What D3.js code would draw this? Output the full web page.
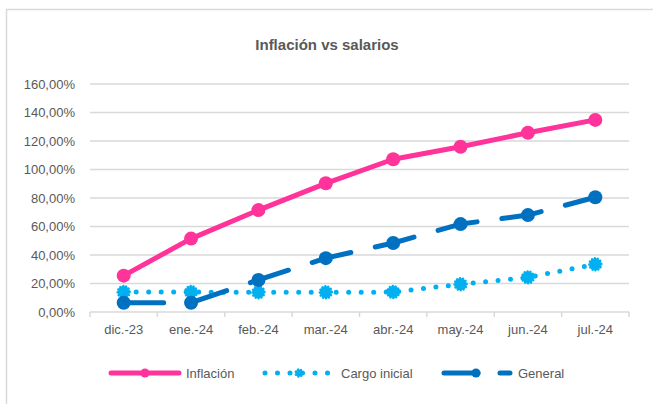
<!DOCTYPE html>
<html>
<head>
<meta charset="utf-8">
<script src="https://cdn.jsdelivr.net/npm/d3@7"></script>
<style>
    body { margin: 0; background: #fff; }
    svg text { font-family: "Liberation Sans Narrow", "Arial Narrow", "Liberation Sans", Arial, sans-serif; fill: #595959; }
</style>
</head>
<body>
<div id="chart"></div>
<script>
(function () {
    "use strict";

    const width = 653;
    const height = 404;

    const months = ["dic.-23", "ene.-24", "feb.-24", "mar.-24", "abr.-24", "may.-24", "jun.-24", "jul.-24"];
    const inflacion = [25.5, 51.5, 71.5, 90.3, 107.2, 116, 125.8, 134.8];
    const cargoInicial = [14, 14, 13.8, 13.8, 14, 19.5, 24.3, 33.5];
    const general = [6.5, 6.5, 22.5, 37.8, 48.4, 61.7, 68, 80.5];
    const yTicks = [0, 20, 40, 60, 80, 100, 120, 140, 160];

    const margin = { left: 90, right: 24, top: 84, bottom: 92 };

    const svg = d3.select("#chart")
        .append("svg")
        .attr("width", width)
        .attr("height", height);

    // chart frame (only left and top edges are visible in the crop)
    svg.append("rect")
        .attr("x", 6.5)
        .attr("y", 9.5)
        .attr("width", 700)
        .attr("height", 500)
        .attr("fill", "none")
        .attr("stroke", "#d9d9d9")
        .attr("stroke-width", 1.5);

    svg.append("text")
        .attr("x", 327)
        .attr("y", 50)
        .attr("text-anchor", "middle")
        .attr("font-size", 15)
        .attr("font-weight", "bold")
        .text("Inflación vs salarios");

    const x = d3.scaleBand()
        .domain(months)
        .range([margin.left, width - margin.right]);

    const y = d3.scaleLinear()
        .domain([0, 160])
        .range([height - margin.bottom, margin.top]);

    // gridlines
    svg.append("g")
        .selectAll("line")
        .data(yTicks.slice(1))
        .join("line")
        .attr("x1", margin.left)
        .attr("x2", width - margin.right)
        .attr("y1", (d) => y(d))
        .attr("y2", (d) => y(d))
        .attr("stroke", "#d9d9d9")
        .attr("stroke-width", 1.5);

    // y labels
    svg.append("g")
        .selectAll("text")
        .data(yTicks)
        .join("text")
        .attr("x", 75)
        .attr("y", (d) => y(d) + 4.5)
        .attr("text-anchor", "end")
        .attr("font-size", 13)
        .text((d) => d3.format(".2f")(d).replace(".", ",") + "%");

    // x axis
    const xAxis = svg.append("g")
        .attr("transform", `translate(0,${y(0)})`);
    xAxis.append("line")
        .attr("x1", margin.left)
        .attr("x2", width - margin.right)
        .attr("stroke", "#d9d9d9")
        .attr("stroke-width", 1.5);
    xAxis.selectAll("line.tick")
        .data(months.concat(["end"]))
        .join("line")
        .attr("class", "tick")
        .attr("x1", (d, i) => margin.left + i * x.bandwidth())
        .attr("x2", (d, i) => margin.left + i * x.bandwidth())
        .attr("y1", 0)
        .attr("y2", 5)
        .attr("stroke", "#d9d9d9")
        .attr("stroke-width", 1.5);
    xAxis.selectAll("text")
        .data(months)
        .join("text")
        .attr("x", (d) => x(d) + x.bandwidth() / 2)
        .attr("y", 22)
        .attr("text-anchor", "middle")
        .attr("font-size", 13)
        .text((d) => d);

    const cx = (i) => x(months[i]) + x.bandwidth() / 2;
    const line = d3.line().x((d, i) => cx(i)).y((d) => y(d));

    const series = [
        { name: "Inflación", values: inflacion, color: "#ff3399", dash: null, marker: "circle" },
        { name: "Cargo inicial", values: cargoInicial, color: "#00b0f0", dash: "0,12.5", marker: "spiky" },
        { name: "General", values: general, color: "#0070c0", dash: "40,25", marker: "circle" }
    ];

    function drawMarker(g, px, py, s, r) {
        if (s.marker === "spiky") {
            g.append("circle")
                .attr("cx", px).attr("cy", py).attr("r", r - 1)
                .attr("fill", s.color)
                .attr("stroke", s.color)
                .attr("stroke-width", 2.5)
                .attr("stroke-dasharray", "0.01,3")
                .attr("stroke-linecap", "round");
        } else {
            g.append("circle")
                .attr("cx", px).attr("cy", py).attr("r", r)
                .attr("fill", s.color);
        }
    }

    // draw General and Cargo first, Inflación on top
    [series[1], series[2], series[0]].forEach((s) => {
        const g = svg.append("g");
        g.append("path")
            .attr("d", line(s.values))
            .attr("fill", "none")
            .attr("stroke", s.color)
            .attr("stroke-width", 5)
            .attr("stroke-linecap", "round")
            .attr("stroke-linejoin", "round")
            .attr("stroke-dasharray", s.dash);
        s.values.forEach((v, i) => drawMarker(g, cx(i), y(v), s, 7));
    });

    // legend
    const legendY = 373;
    const legendItems = [
        { s: series[0], x1: 111, x2: 179, text: 186 },
        { s: series[1], x1: 265, x2: 333, text: 341 },
        { s: series[2], x1: 444, x2: 510, text: 518 }
    ];
    legendItems.forEach((d) => {
        const g = svg.append("g");
        g.append("line")
            .attr("x1", d.x1).attr("x2", d.x2)
            .attr("y1", legendY).attr("y2", legendY)
            .attr("stroke", d.s.color)
            .attr("stroke-width", 5)
            .attr("stroke-linecap", "round")
            .attr("stroke-dasharray", d.s.dash === "40,25" ? "34,22" : d.s.dash);
        const mx = d.s.name === "General" ? 476 : (d.x1 + d.x2) / 2;
        drawMarker(g, mx, legendY, d.s, 4.5);
        g.append("text")
            .attr("x", d.text)
            .attr("y", legendY + 4.5)
            .attr("font-size", 13)
            .text(d.s.name);
    });
}());
</script>
</body>
</html>
